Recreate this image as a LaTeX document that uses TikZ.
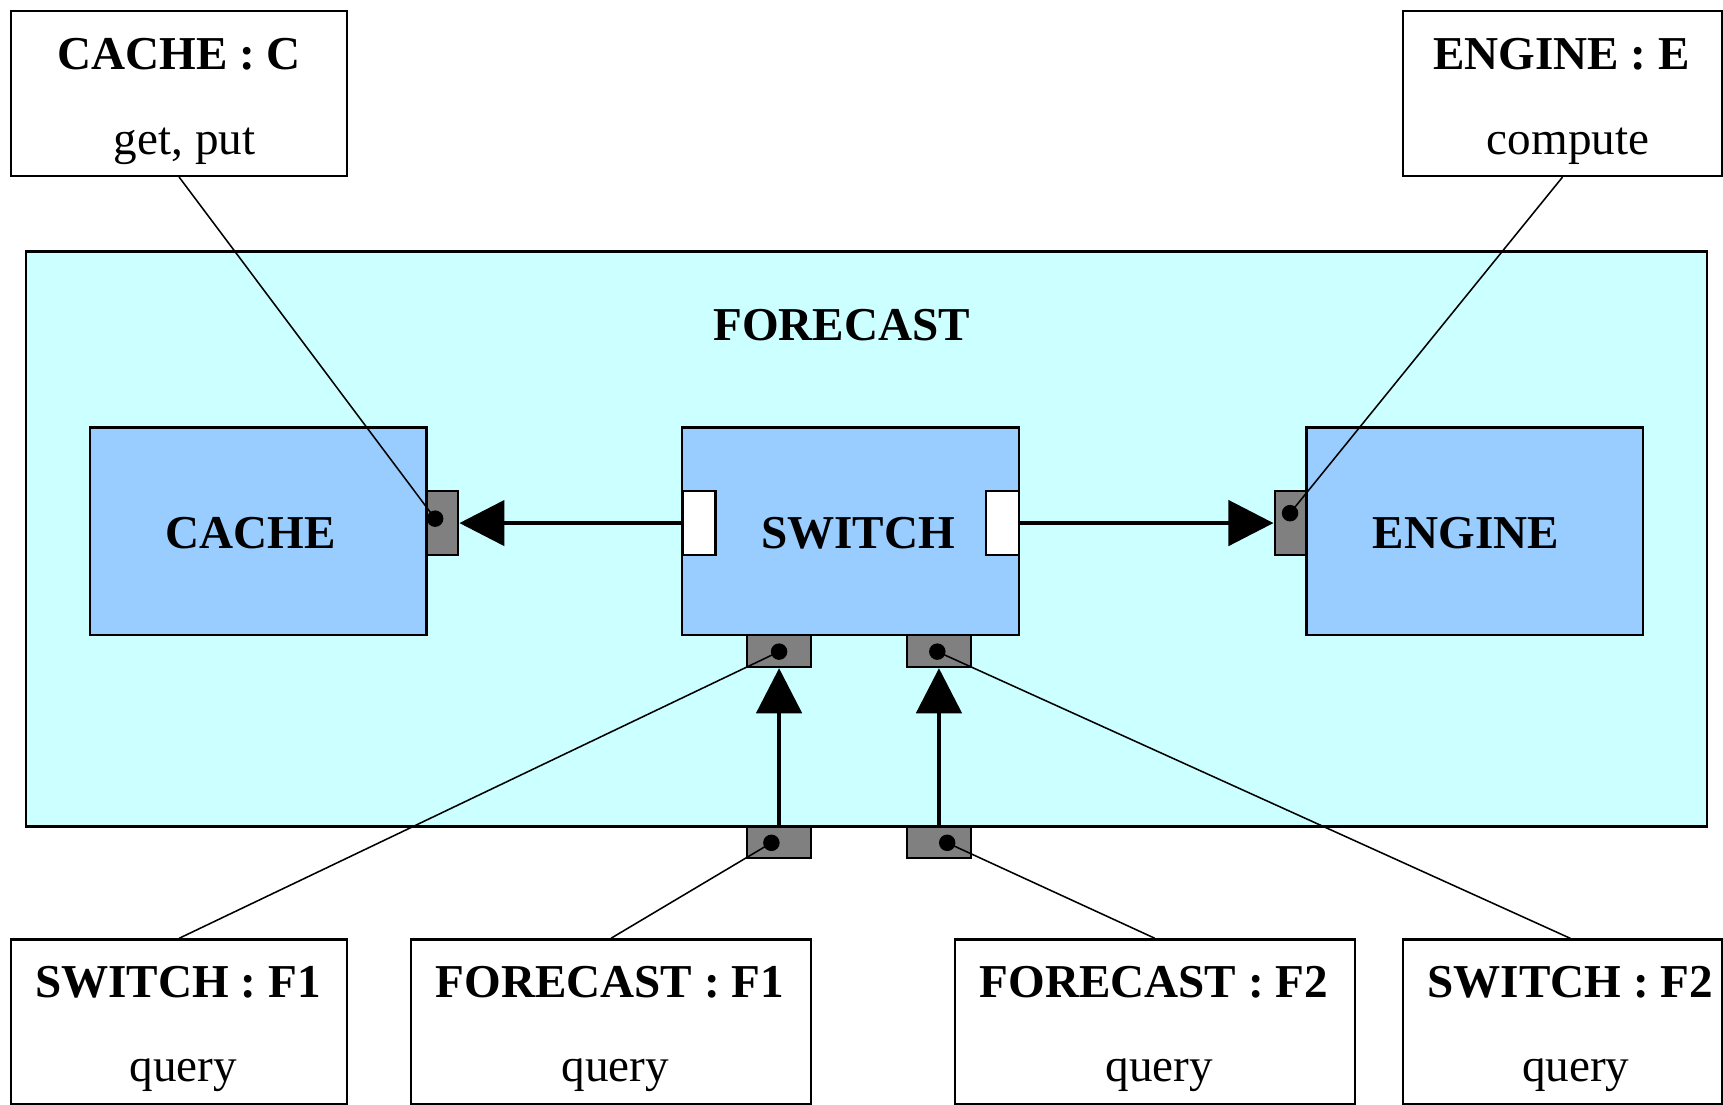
\documentclass[tikz,border=0pt]{standalone}
\usepackage{fontspec}
\setmainfont{Liberation Serif}
\usetikzlibrary{arrows.meta}
\definecolor{outercyan}{HTML}{CCFFFF}
\definecolor{partblue}{HTML}{99CCFF}
\tikzset{
  part/.style={draw,fill=partblue,line width=.6pt,inner sep=0pt,minimum width=3.06cm,minimum height=1.89cm},
  note/.style={draw,fill=white,line width=.6pt,inner sep=0pt,minimum height=1.5cm},
  vport/.style={draw,fill=gray,line width=.6pt,inner sep=0pt,minimum width=.29cm,minimum height=.58cm},
  hport/.style={draw,fill=gray,line width=.6pt,inner sep=0pt,minimum width=.58cm,minimum height=.29cm},
  hole/.style={draw,fill=white,line width=.6pt,inner sep=0pt,minimum width=.3cm,minimum height=.58cm},
  pin/.style={circle,fill=black,inner sep=0pt,minimum size=.15cm},
  flow/.style={line width=1.2pt,-{Triangle[length=.41cm,width=.41cm]}},
  bold/.style={font=\fontsize{12.2}{14}\selectfont\bfseries,anchor=base},
  plain/.style={font=\fontsize{12.2}{14}\selectfont,anchor=base}
}
\begin{document}
\begin{tikzpicture}[x=.01cm,y=-.01cm]
\useasboundingbox (0,0) rectangle (1568,1005);
% the composite
\node[draw,fill=outercyan,line width=.6pt,minimum width=15.29cm,minimum height=5.23cm] (forecast) at (788.5,490.5) {};
\node[bold] (ftitle) at (766,310) {FORECAST};
\node[part] (cache) at (235,483.5) {};
\node[part] (switch) at (774,483.5) {};
\node[part] (engine) at (1342,483.5) {};
\node[bold] (lcache) at (228,499) {CACHE};
\node[bold] (lswitch) at (781,499) {SWITCH};
\node[bold] (lengine) at (1334,499) {ENGINE};
% ports
\node[vport] (pC) at (402.5,476) {};
\node[vport] (pE) at (1174.5,476) {};
\node[hole] (hL) at (636,476) {};
\node[hole] (hR) at (912.5,476) {};
\node[hport] (pS1) at (709,592.5) {};
\node[hport] (pS2) at (854.5,592.5) {};
\node[hport] (pF1) at (709,766.5) {};
\node[hport] (pF2) at (854.5,766.5) {};
\draw[flow] (hL.west) -- (pC.east);
\draw[flow] (hR.east) -- (pE.west);
\draw[flow] (pF1.north) -- (pS1.south);
\draw[flow] (pF2.north) -- (pS2.south);
% notes
\node[note,minimum width=3.06cm] (noteC) at (163,85) {};
\node[bold] (tC) at (163,63) {CACHE : C};
\node[plain] (oC) at (168,141) {get, put};
\node[note,minimum width=2.9cm] (noteE) at (1422,85) {};
\node[bold] (tE) at (1421,63) {ENGINE : E};
\node[plain] (oE) at (1427,141) {compute};
\node[note,minimum width=3.06cm] (noteSF1) at (163,930) {};
\node[bold] (tSF1) at (162,908) {SWITCH : F1};
\node[plain] (oSF1) at (167,984) {query};
\node[note,minimum width=3.64cm] (noteFF1) at (556,930) {};
\node[bold] (tFF1) at (555,908) {FORECAST : F1};
\node[plain] (oFF1) at (560,984) {query};
\node[note,minimum width=3.64cm] (noteFF2) at (1051,930) {};
\node[bold] (tFF2) at (1050,908) {FORECAST : F2};
\node[plain] (oFF2) at (1055,984) {query};
\node[note,minimum width=2.9cm] (noteSF2) at (1422,930) {};
\node[bold] (tSF2) at (1429,908) {SWITCH : F2};
\node[plain] (oSF2) at (1434,984) {query};
% pins and their links
\node[pin] (dC) at (396,472) {};
\node[pin] (dE) at (1174,467) {};
\node[pin] (dS1) at (709,593) {};
\node[pin] (dS2) at (853,593) {};
\node[pin] (dF1) at (702,767) {};
\node[pin] (dF2) at (862,767) {};
\draw[line width=.4pt] (noteC.south) -- (dC.center);
\draw[line width=.4pt] (noteE.south) -- (dE.center);
\draw[line width=.4pt] (noteSF1.north) -- (dS1.center);
\draw[line width=.4pt] (noteFF1.north) -- (dF1.center);
\draw[line width=.4pt] (noteFF2.north) -- (dF2.center);
\draw[line width=.4pt] ([xshift=.07cm]noteSF2.north) -- (dS2.center);
\end{tikzpicture}
\end{document}
